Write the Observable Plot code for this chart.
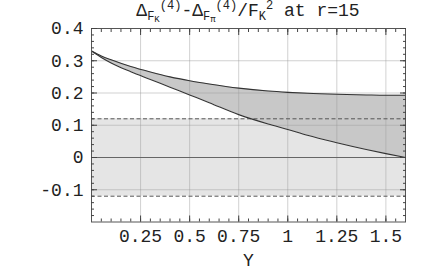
<!DOCTYPE html>
<html><head><meta charset="utf-8">
<script src="https://cdn.jsdelivr.net/npm/d3@7"></script>
<script src="https://cdn.jsdelivr.net/npm/@observablehq/plot@0.6"></script>
<style>
body{margin:0;background:#fff}
#wrap{position:relative;width:440px;height:272px;overflow:hidden}
#title{position:absolute;left:91px;width:314px;top:0;text-align:center;font-family:"Liberation Mono",monospace;font-size:18px;line-height:22px;color:#222;white-space:nowrap}
#title .s{font-size:12px;position:relative;top:4px}
#title .ss{font-size:9px;position:relative;top:6px}
#title .p{font-size:12px;position:relative;top:-7px}
</style></head>
<body><div id="wrap"><div id="title">Δ<span class="s">F</span><span class="ss">K</span><span class="p">(4)</span>-Δ<span class="s">F</span><span class="ss">π</span><span class="p">(4)</span>/F<span class="s">K</span><span class="p">2</span> at r=15</div></div>
<script>
// data
const Yvals  = [0, 0.05, 0.1, 0.2, 0.3, 0.4, 0.5, 0.6, 0.75, 0.9, 1.0, 1.1, 1.25, 1.4, 1.5, 1.6];
const upper  = [0.33, 0.315, 0.303, 0.282, 0.265, 0.25, 0.238, 0.228, 0.215, 0.206, 0.202, 0.199, 0.196, 0.194, 0.193, 0.193];
const lower  = [0.33, 0.31, 0.293, 0.266, 0.242, 0.218, 0.194, 0.17, 0.133, 0.104, 0.087, 0.069, 0.046, 0.025, 0.012, 0.0];
const bandLimits = [-0.12, 0.12];
const xDomain = [0, 1.6];
const yDomain = [-0.2, 0.4];
const xMajor = [0.25, 0.5, 0.75, 1, 1.25, 1.5];
const xMajorLabels = ["0.25", "0.5", "0.75", "1", "1.25", "1.5"];
const yMajor = [-0.1, 0, 0.1, 0.2, 0.3, 0.4];
const yMajorLabels = ["-0.1", "0", "0.1", "0.2", "0.3", "0.4"];
const xMinor = d3.range(1, 32).map(i => i * 0.05);
const yMinor = d3.range(-9, 20).map(i => i * 0.02);
const xLabel = "Y";

const rows = Yvals.map((y, i) => ({Y: y, upper: upper[i], lower: lower[i]}));
const yGrid = yMajor.filter(v => v !== 0 && v !== 0.4);
const font = "Liberation Mono";
const tickStroke = "#444";

const chart = Plot.plot({
  width: 440, height: 272,
  marginLeft: 91, marginRight: 35, marginTop: 28, marginBottom: 50.5,
  style: {fontFamily: font, fontSize: "18px", color: "#222", background: "transparent"},
  x: {domain: xDomain},
  y: {domain: yDomain},
  marks: [
    Plot.rect([bandLimits], {x1: () => xDomain[0], x2: () => xDomain[1], y1: d => d[0], y2: d => d[1], fill: "#e5e5e5"}),
    Plot.areaY(rows, {x: "Y", y1: "lower", y2: "upper", fill: "#c8c8c8", curve: "monotone-x"}),
    Plot.ruleX(xMajor, {stroke: "#999", strokeOpacity: 0.45}),
    Plot.ruleY(yGrid, {stroke: "#999", strokeOpacity: 0.45}),
    Plot.ruleY([0], {stroke: "#666", strokeWidth: 1}),
    Plot.ruleY(bandLimits, {stroke: "#555", strokeDasharray: "4,2.5", strokeWidth: 1}),
    Plot.lineY(rows, {x: "Y", y: "upper", stroke: "#333", strokeWidth: 1.1, curve: "monotone-x"}),
    Plot.lineY(rows, {x: "Y", y: "lower", stroke: "#333", strokeWidth: 1.1, curve: "monotone-x"}),
    Plot.frame({stroke: "#555"}),
    // inward ticks
    Plot.axisX(xMinor, {anchor: "bottom", tickSize: -3, tickFormat: () => "", label: null, stroke: tickStroke}),
    Plot.axisX(xMinor, {anchor: "top", tickSize: -3, tickFormat: () => "", label: null, stroke: tickStroke}),
    Plot.axisX(xMajor, {anchor: "bottom", tickSize: -6, tickFormat: () => "", label: null, stroke: tickStroke}),
    Plot.axisX(xMajor, {anchor: "top", tickSize: -6, tickFormat: () => "", label: null, stroke: tickStroke}),
    Plot.axisY(yMinor, {anchor: "left", tickSize: -3, tickFormat: () => "", label: null, stroke: tickStroke}),
    Plot.axisY(yMinor, {anchor: "right", tickSize: -3, tickFormat: () => "", label: null, stroke: tickStroke}),
    Plot.axisY(yMajor, {anchor: "left", tickSize: -6, tickFormat: () => "", label: null, stroke: tickStroke}),
    Plot.axisY(yMajor, {anchor: "right", tickSize: -6, tickFormat: () => "", label: null, stroke: tickStroke}),
    // labels
    Plot.axisX(xMajor, {anchor: "bottom", tickSize: 0, tickPadding: 7, tickFormat: (d) => xMajorLabels[xMajor.indexOf(d)], label: null, fontSize: 18, fill: "#222"}),
    Plot.axisY(yMajor, {anchor: "left", tickSize: 0, tickPadding: 8, tickFormat: (d) => yMajorLabels[yMajor.indexOf(d)], label: null, fontSize: 18, fill: "#222"}),
    Plot.text([xLabel], {text: d => d, frameAnchor: "bottom", lineAnchor: "middle", dy: 38, fontSize: 18, fill: "#222"})
  ]
});
document.getElementById("wrap").prepend(chart);
</script>
</body></html>
